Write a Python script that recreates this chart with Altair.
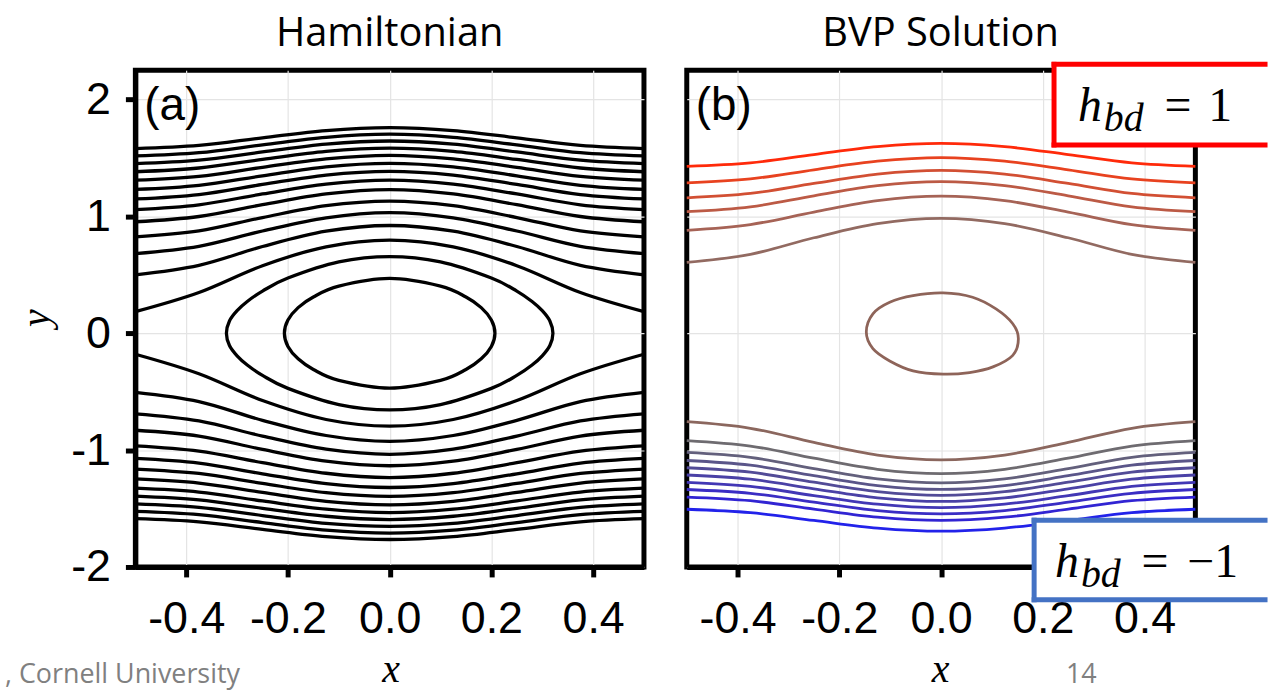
import altair as alt
import pandas as pd

# ---------------- data ----------------
X_SAMPLES = [-0.5, -0.375, -0.25, -0.125, 0.0, 0.125, 0.25, 0.375, 0.5]
X_TICKS = [-0.4, -0.2, 0.0, 0.2, 0.4]
Y_TICKS = [-2, -1, 0, 1, 2]

# (a) Hamiltonian: open level curves, y at X_SAMPLES
HAM_UPPER = [
    [0.185, 0.349, 0.578, 0.739, 0.796, 0.739, 0.578, 0.349, 0.185],
    [0.500, 0.581, 0.742, 0.873, 0.922, 0.873, 0.742, 0.581, 0.500],
    [0.682, 0.744, 0.875, 0.988, 1.032, 0.988, 0.875, 0.744, 0.682],
    [0.825, 0.876, 0.990, 1.092, 1.131, 1.092, 0.990, 0.876, 0.825],
    [0.954, 0.999, 1.100, 1.192, 1.229, 1.192, 1.100, 0.999, 0.954],
    [1.058, 1.099, 1.192, 1.277, 1.311, 1.277, 1.192, 1.099, 1.058],
    [1.149, 1.187, 1.273, 1.354, 1.386, 1.354, 1.273, 1.187, 1.149],
    [1.231, 1.266, 1.347, 1.424, 1.454, 1.424, 1.347, 1.266, 1.231],
    [1.310, 1.343, 1.420, 1.492, 1.522, 1.492, 1.420, 1.343, 1.310],
    [1.382, 1.414, 1.487, 1.556, 1.584, 1.556, 1.487, 1.414, 1.382],
    [1.451, 1.481, 1.551, 1.618, 1.645, 1.618, 1.551, 1.481, 1.451],
    [1.517, 1.545, 1.612, 1.677, 1.703, 1.677, 1.612, 1.545, 1.517],
    [1.580, 1.607, 1.672, 1.734, 1.759, 1.734, 1.672, 1.607, 1.580],
]
HAM_LOWER = [
    [-0.180, -0.347, -0.576, -0.738, -0.795, -0.738, -0.576, -0.347, -0.180],
    [-0.506, -0.585, -0.745, -0.875, -0.925, -0.875, -0.745, -0.585, -0.506],
    [-0.689, -0.750, -0.880, -0.992, -1.036, -0.992, -0.880, -0.750, -0.689],
    [-0.830, -0.880, -0.994, -1.095, -1.134, -1.095, -0.994, -0.880, -0.830],
    [-0.963, -1.008, -1.107, -1.198, -1.235, -1.198, -1.107, -1.008, -0.963],
    [-1.071, -1.111, -1.203, -1.287, -1.320, -1.287, -1.203, -1.111, -1.071],
    [-1.162, -1.200, -1.285, -1.364, -1.396, -1.364, -1.285, -1.200, -1.162],
    [-1.247, -1.282, -1.362, -1.438, -1.468, -1.438, -1.362, -1.282, -1.247],
    [-1.326, -1.359, -1.435, -1.506, -1.535, -1.506, -1.435, -1.359, -1.326],
    [-1.394, -1.426, -1.498, -1.566, -1.594, -1.566, -1.498, -1.426, -1.394],
    [-1.460, -1.490, -1.560, -1.626, -1.652, -1.626, -1.560, -1.490, -1.460],
    [-1.525, -1.553, -1.620, -1.684, -1.710, -1.684, -1.620, -1.553, -1.525],
    [-1.587, -1.614, -1.678, -1.740, -1.765, -1.740, -1.678, -1.614, -1.587],
]
# (a) closed orbits around the centre
HAM_INNER_X = [0.0, 0.1, 0.15, 0.18, 0.2, 0.207, 0.2, 0.18, 0.15, 0.1,
               0.0, -0.1, -0.15, -0.18, -0.2, -0.207, -0.2, -0.18, -0.15, -0.1]
HAM_INNER_Y = [0.469, 0.403, 0.31, 0.219, 0.113, 0.0, -0.113, -0.219, -0.31, -0.403,
               -0.469, -0.403, -0.31, -0.219, -0.113, 0.0, 0.113, 0.219, 0.31, 0.403]
HAM_OUTER_X = [0.0, 0.1, 0.2, 0.25, 0.28, 0.3, 0.315, 0.321, 0.315, 0.3, 0.28, 0.25, 0.2, 0.1,
               0.0, -0.1, -0.2, -0.25, -0.28, -0.3, -0.315, -0.321, -0.315, -0.3, -0.28, -0.25, -0.2, -0.1]
HAM_OUTER_Y = [0.656, 0.610, 0.472, 0.361, 0.272, 0.193, 0.105, 0.0, -0.105, -0.193, -0.272, -0.361, -0.472, -0.610,
               -0.656, -0.610, -0.472, -0.361, -0.272, -0.193, -0.105, 0.0, 0.105, 0.193, 0.272, 0.361, 0.472, 0.610]

# (b) BVP solution curves
BVP_UPPER = [
    [1.428, 1.458, 1.529, 1.597, 1.625, 1.597, 1.529, 1.458, 1.428],
    [1.287, 1.321, 1.399, 1.472, 1.502, 1.472, 1.399, 1.321, 1.287],
    [1.159, 1.196, 1.282, 1.362, 1.394, 1.362, 1.282, 1.196, 1.159],
    [1.040, 1.082, 1.176, 1.263, 1.297, 1.263, 1.176, 1.082, 1.040],
    [0.881, 0.930, 1.037, 1.135, 1.173, 1.135, 1.037, 0.930, 0.881],
    [0.606, 0.675, 0.817, 0.938, 0.983, 0.938, 0.817, 0.675, 0.606],
]
BVP_UPPER_COLORS = ["#ff2a0a", "#e8421f", "#d24f33", "#bc5a45", "#a66356", "#926a61"]
BVP_LOWER = [
    [-0.757, -0.813, -0.934, -1.042, -1.083, -1.042, -0.934, -0.813, -0.757],
    [-0.918, -0.965, -1.069, -1.164, -1.201, -1.164, -1.069, -0.965, -0.918],
    [-1.020, -1.062, -1.158, -1.246, -1.281, -1.246, -1.158, -1.062, -1.020],
    [-1.089, -1.129, -1.219, -1.303, -1.336, -1.303, -1.219, -1.129, -1.089],
    [-1.151, -1.189, -1.275, -1.355, -1.387, -1.355, -1.275, -1.189, -1.151],
    [-1.213, -1.249, -1.331, -1.408, -1.439, -1.408, -1.331, -1.249, -1.213],
    [-1.276, -1.310, -1.389, -1.463, -1.493, -1.463, -1.389, -1.310, -1.276],
    [-1.337, -1.370, -1.445, -1.517, -1.545, -1.517, -1.445, -1.370, -1.337],
    [-1.402, -1.433, -1.505, -1.574, -1.602, -1.574, -1.505, -1.433, -1.402],
    [-1.506, -1.535, -1.602, -1.667, -1.694, -1.667, -1.602, -1.535, -1.506],
]
BVP_LOWER_COLORS = ["#8b675e", "#6e6b70", "#63607c", "#5a5589", "#524b97",
                    "#4a41a6", "#4237b5", "#3a2dc4", "#3124d3", "#2222ea"]
BVP_LOOP_X = [-0.147, -0.134, -0.101, -0.055, 0.004, 0.062, 0.108, 0.141,
              0.152, 0.141, 0.102, 0.056, 0.004, -0.055, -0.101, -0.134]
BVP_LOOP_Y = [0.010, 0.166, 0.265, 0.322, 0.345, 0.308, 0.208, 0.081,
              -0.047, -0.189, -0.288, -0.336, -0.350, -0.322, -0.237, -0.132]
BVP_LOOP_COLOR = "#8e6459"

TITLES = ["Hamiltonian", "BVP Solution"]
PANEL_TAGS = ["(a)", "(b)"]


# ---------------- tables ----------------
def open_table(curves, prefix, colors=None):
    rows = []
    for k, ys in enumerate(curves):
        for i, (xv, yv) in enumerate(zip(X_SAMPLES, ys)):
            rows.append({"x": xv, "y": yv, "curve": f"{prefix}{k}", "i": i,
                         "col": colors[k] if colors else "black"})
    return pd.DataFrame(rows)


def closed_table(xs_, ys_, name, color="black"):
    return pd.DataFrame({"x": xs_, "y": ys_, "curve": name,
                         "i": list(range(len(xs_))), "col": color})


ham_open = pd.concat([open_table(HAM_UPPER, "u"), open_table(HAM_LOWER, "l")])
ham_closed = pd.concat([closed_table(HAM_INNER_X, HAM_INNER_Y, "inner"),
                        closed_table(HAM_OUTER_X, HAM_OUTER_Y, "outer")])
bvp_open = pd.concat([open_table(BVP_UPPER, "u", BVP_UPPER_COLORS),
                      open_table(BVP_LOWER, "l", BVP_LOWER_COLORS)])
bvp_closed = closed_table(BVP_LOOP_X, BVP_LOOP_Y, "loop", BVP_LOOP_COLOR)

# ---------------- scales / axes ----------------
W, H = 511, 499
xs = alt.Scale(domain=[-0.5, 0.5], nice=False, zero=False)
ys = alt.Scale(domain=[-2.0, 2.25], nice=False, zero=False)

X_LABEL_EXPR = "datum.value < 0 ? '-' + format(-datum.value, '.1f') : format(datum.value, '.1f')"
Y_LABEL_EXPR = "datum.value < 0 ? '-' + format(-datum.value, 'd') : format(datum.value, 'd')"
GRID = dict(grid=True, gridColor="#e4e4e4", gridWidth=1.2)
common = dict(domainColor="black", domainWidth=5, tickColor="black", tickWidth=5,
              tickSize=10, labelFont="Liberation Sans", labelFontSize=45,
              labelColor="black", title=None, labelFlush=False, labelOverlap=False, **GRID)

x_axis = alt.Axis(values=X_TICKS, labelExpr=X_LABEL_EXPR, labelPadding=20, **common)
y_axis_a = alt.Axis(values=Y_TICKS, labelExpr=Y_LABEL_EXPR, labelPadding=15, **common)
y_axis_b = alt.Axis(values=Y_TICKS, labels=False, ticks=False, domain=False, title=None, **GRID)

X_ENC = alt.X("x:Q", scale=xs, axis=x_axis)
Y_A = alt.Y("y:Q", scale=ys, axis=y_axis_a)
Y_B = alt.Y("y:Q", scale=ys, axis=y_axis_b)

one = pd.DataFrame({"t": [""]})


def txt(s, x, y, size, font="Liberation Sans", color="black", align="left",
        baseline="alphabetic", style="normal", angle=None):
    mk = dict(font=font, fontSize=size, color=color, align=align,
              baseline=baseline, fontStyle=style)
    if angle is not None:
        mk["angle"] = angle
    return alt.Chart(pd.DataFrame({"t": [s]})).mark_text(**mk).encode(
        text="t:N", x=alt.value(x), y=alt.value(y))


def box(x1, x2, y1, y2, color, w=5):
    fill = alt.Chart(one).mark_rect(color="white").encode(
        x=alt.value(x1), x2=alt.value(x2 + 2.5), y=alt.value(y1), y2=alt.value(y2))
    top = alt.Chart(one).mark_rule(color=color, strokeWidth=w, strokeCap="butt").encode(
        x=alt.value(x1 - w / 2), x2=alt.value(x2), y=alt.value(y1))
    bot = alt.Chart(one).mark_rule(color=color, strokeWidth=w, strokeCap="butt").encode(
        x=alt.value(x1 - w / 2), x2=alt.value(x2), y=alt.value(y2))
    left = alt.Chart(one).mark_rule(color=color, strokeWidth=w, strokeCap="butt").encode(
        x=alt.value(x1), y=alt.value(y1 - w / 2), y2=alt.value(y2 + w / 2))
    return [fill, top, bot, left]


# ---------------- panel (a) ----------------
anchor = alt.Chart(one).mark_rect(opacity=0).encode(
    x=alt.value(-133), x2=alt.value(1140), y=alt.value(-66), y2=alt.value(624))

a_open = alt.Chart(ham_open).mark_line(interpolate="monotone", color="black", strokeWidth=3.3).encode(
    x=X_ENC, y=Y_A, detail="curve:N")
a_closed = alt.Chart(ham_closed).mark_line(interpolate="cardinal-closed", color="black", strokeWidth=3.3).encode(
    x=X_ENC, y=Y_A, detail="curve:N", order="i:Q")

panel_a = alt.layer(
    anchor, a_open, a_closed,
    txt(TITLES[0], 255.5, -24, 40, font="Open Sans", align="center"),
    txt(PANEL_TAGS[0], 9, 50, 46),
    txt("y", -99, 249, 40, font="Liberation Serif", style="italic", align="center",
        baseline="middle", angle=270),
    txt("x", 257, 615, 40, font="Liberation Serif", style="italic", align="center"),
    txt(", Cornell University", -131, 616, 27, font="Open Sans", color="#808080"),
).properties(width=W, height=H)

# ---------------- panel (b) ----------------
b_open = alt.Chart(bvp_open).mark_line(interpolate="monotone", strokeWidth=2.8).encode(
    x=X_ENC, y=Y_B, detail="curve:N", color=alt.Color("col:N", scale=None, legend=None))
b_closed = alt.Chart(bvp_closed).mark_line(interpolate="cardinal-closed", strokeWidth=2.8).encode(
    x=X_ENC, y=Y_B, detail="curve:N", order="i:Q", color=alt.Color("col:N", scale=None, legend=None))

red = box(369, 583.5, -6, 75, "#ff0000")
blue = box(349, 583.5, 452, 532, "#4472c4")

panel_b = alt.layer(
    b_open, b_closed,
    *red,
    txt("h", 393, 51, 48, font="Liberation Serif", style="italic"),
    txt("bd", 419, 61, 40, font="Liberation Serif", style="italic"),
    txt("=", 480, 51, 48, font="Liberation Serif"),
    txt("1", 524, 51, 48, font="Liberation Serif"),
    *blue,
    txt("h", 370, 509, 48, font="Liberation Serif", style="italic"),
    txt("bd", 396, 519, 40, font="Liberation Serif", style="italic"),
    txt("=", 457, 509, 48, font="Liberation Serif"),
    txt("\u22121", 503, 509, 48, font="Liberation Serif"),
    txt(TITLES[1], 255, -24, 40, font="Open Sans", align="center"),
    txt(PANEL_TAGS[1], 9, 50, 46),
    txt("x", 255, 615, 40, font="Liberation Serif", style="italic", align="center"),
    txt("14", 381, 616, 27, font="Open Sans", color="#808080"),
).properties(width=W, height=H)

chart = (
    alt.hconcat(panel_a, panel_b, spacing=43, bounds="flush")
    .properties(padding=0, background="white")
    .configure_view(stroke="black", strokeWidth=5)
)

chart.save("out.html", embed_options={"renderer": "svg", "actions": False})
